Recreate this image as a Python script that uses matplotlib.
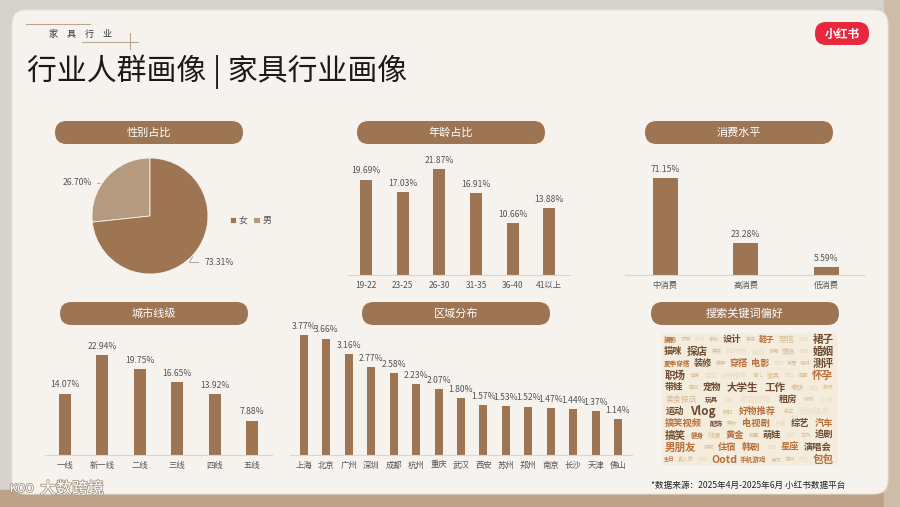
import matplotlib
matplotlib.use("Agg")
import matplotlib.pyplot as plt
import matplotlib.patheffects as pe
from matplotlib.patches import FancyBboxPatch, Rectangle

plt.rcParams['font.family'] = ['Noto Sans CJK SC', 'DejaVu Sans']

W, H = 900, 507
BROWN = '#9e7552'
LIGHT = '#b59a80'
GRAY = '#555555'

# data
gender_labels = ['男', '女']
gender_vals = [26.70, 73.31]

age_cats = ['19-22', '23-25', '26-30', '31-35', '36-40', '41以上']
age_vals = [19.69, 17.03, 21.87, 16.91, 10.66, 13.88]

spend_cats = ['中消费', '高消费', '低消费']
spend_vals = [71.15, 23.28, 5.59]

tier_cats = ['一线', '新一线', '二线', '三线', '四线', '五线']
tier_vals = [14.07, 22.94, 19.75, 16.65, 13.92, 7.88]

region_cats = ['上海', '北京', '广州', '深圳', '成都', '杭州', '重庆', '武汉',
               '西安', '苏州', '郑州', '南京', '长沙', '天津', '佛山']
region_vals = [3.77, 3.66, 3.16, 2.77, 2.58, 2.23, 2.07, 1.80,
               1.57, 1.53, 1.52, 1.47, 1.44, 1.37, 1.14]

# word cloud rows: (word, size, colour)
D, O, T, P = '#6e4b30', '#b8703c', '#d9bb8e', '#ecdcc2'
cloud_rows = [
    [('摄影', 5, O), ('求职', 4, T), ('学习', 4, P), ('手帐', 4, T), ('设计', 7, D), ('亲子', 4, T),
     ('鞋子', 6, O), ('穿搭', 6, T), ('情侣', 4, P), ('裙子', 8, D)],
    [('猫咪', 7, D), ('探店', 8, D), ('美食', 4, T), ('旅游攻略', 4, P), ('绘画', 5, P), ('家电', 4, T),
     ('情侣', 5, T), ('书单', 4, P), ('婚姻', 8, D)],
    [('夏季穿搭', 5, O), ('装修', 7, D), ('美甲', 4, T), ('穿搭', 7, O), ('电影', 7, O), ('耳机', 4, P),
     ('家居', 4, T), ('咖啡', 4, T), ('测评', 8, D)],
    [('职场', 8, D), ('健身', 4, T), ('宝宝', 5, P), ('好物推荐', 5, P), ('育儿', 4, T), ('家具', 5, T),
     ('宝妈', 4, P), ('插画', 4, T), ('怀孕', 8, O)],
    [('带娃', 7, D), ('面试', 4, T), ('宠物', 7, D), ('大学生', 8, D), ('工作', 8, D), ('考研', 5, T),
     ('露营', 4, P), ('旅行', 4, T)],
    [('美食探店', 6, T), ('玩具', 5, D), ('烘焙', 4, P), ('家居好物', 6, P), ('租房', 7, D), ('收纳', 4, T),
     ('小说', 5, P)],
    [('运动', 7, D), ('Vlog', 9, D), ('数码', 4, T), ('好物推荐', 7, O), ('手工', 4, T), ('休闲娱乐', 6, P)],
    [('搞笑视频', 7, O), ('配饰', 5, D), ('美妆', 4, T), ('电视剧', 7, O), ('科普', 4, P), ('综艺', 7, D),
     ('汽车', 7, O)],
    [('搞笑', 8, D), ('健身', 5, O), ('动漫', 5, T), ('黄金', 7, O), ('明星', 4, T), ('萌娃', 7, D),
     ('音乐', 4, P), ('古风', 4, T), ('追剧', 7, D)],
    [('男朋友', 8, O), ('护肤', 4, T), ('住宿', 7, O), ('韩剧', 7, O), ('减肥', 4, P), ('星座', 7, O),
     ('演唱会', 7, D)],
    [('生日', 4, O), ('真人秀', 4, T), ('历史', 4, P), ('Ootd', 8, O), ('手机游戏', 5, O), ('读书', 4, T),
     ('游戏', 4, T), ('养生', 4, P), ('包包', 8, O)],
]

fig = plt.figure(figsize=(W / 100, H / 100), dpi=100, facecolor='#d6d2ce')


def px_axes(x0, y0, x1, y1):
    return fig.add_axes([x0 / W, 1 - y1 / H, (x1 - x0) / W, (y1 - y0) / H])


# background layer
bg = px_axes(0, 0, W, H)
bg.set_xlim(0, W)
bg.set_ylim(H, 0)
bg.axis('off')
bg.add_patch(Rectangle((0, 490), W, 17, color='#bca287', zorder=0))
bg.add_patch(Rectangle((884, 0), 16, H, color='#cdbda8', zorder=0))
bg.add_patch(FancyBboxPatch((12, 10), 876, 484, boxstyle='round,pad=0,rounding_size=14',
                            fc='#f6f3ee', ec='#e6e0d8', lw=0.8, zorder=1))

# header
bg.plot([26, 90], [24, 24], color='#b9a78f', lw=0.8, zorder=2)
bg.plot([82, 138], [42, 42], color='#b9a78f', lw=0.8, zorder=2)
bg.plot([130, 130], [33, 49], color='#b9a78f', lw=0.8, zorder=2)
bg.text(49, 34, '家\u3000具\u3000行\u3000业', fontsize=6.5, color='#333333', va='center', zorder=3)
bg.text(27, 72, '行业人群画像 | 家具行业画像', fontsize=21.5, color='#1a1a1a', va='center', zorder=3)

# logo
bg.add_patch(FancyBboxPatch((815, 22), 54, 23, boxstyle='round,pad=0,rounding_size=11',
                            fc='#e8283c', ec='none', zorder=3))
bg.text(842, 34, '小红书', fontsize=8.5, color='white', weight='bold', ha='center', va='center', zorder=4)

# section pills
pills = [(55, 121, '性别占比'), (357, 121, '年龄占比'), (645, 121, '消费水平'),
         (60, 302, '城市线级'), (362, 302, '区域分布'), (651, 302, '搜索关键词偏好')]
for x, y, t in pills:
    bg.add_patch(FancyBboxPatch((x, y), 188, 23, boxstyle='round,pad=0,rounding_size=11.5',
                                fc=BROWN, ec='none', zorder=3))
    bg.text(x + 94, y + 11.5, t, fontsize=8, color='white', ha='center', va='center', zorder=4)

# footer and watermark
bg.text(651, 485, '*数据来源：2025年4月-2025年6月 小红书数据平台', fontsize=6.2, color='#222222',
        va='center', zorder=3)
halo = [pe.withStroke(linewidth=1.2, foreground='#a89886')]
bg.text(10, 489, 'KOO', fontsize=8, color='white', va='center', zorder=3, path_effects=halo)
bg.text(40, 489, '大数跨境', fontsize=11.5, color='white', va='center', zorder=3, path_effects=halo)


def bar_panel(box, cats, vals, xlim, width, ymax, base_y):
    x0, y0, x1 = box
    ax = px_axes(x0, y0, x1, base_y)
    ax.patch.set_alpha(0)
    pos = range(len(cats))
    bars = ax.bar(pos, vals, width=width, color=BROWN)
    ax.set_xlim(*xlim)
    ax.set_ylim(0, ymax)
    for s in ['top', 'right', 'left']:
        ax.spines[s].set_visible(False)
    ax.spines['bottom'].set_color('#dcd6cf')
    ax.spines['bottom'].set_linewidth(0.8)
    ax.set_yticks([])
    ax.set_xticks(list(pos))
    ax.set_xticklabels(cats, fontsize=6, color=GRAY)
    ax.tick_params(axis='x', length=0, pad=4)
    for b, v in zip(bars, vals):
        ax.annotate(f'{v:.2f}%', (b.get_x() + b.get_width() / 2, v), xytext=(0, 3),
                    textcoords='offset points', ha='center', va='bottom',
                    fontsize=6.2, color=GRAY, annotation_clip=False)
    return ax


bar_panel((348, 150, 570), age_cats, age_vals, (-0.5, 5.57), 0.33, 21.87 * 125 / 106, 275)
bar_panel((625, 150, 865), spend_cats, spend_vals, (-0.5, 2.48), 0.31, 71.15 * 125 / 97, 275)
bar_panel((45, 335, 272), tier_cats, tier_vals, (-0.53, 5.53), 0.32, 22.94 * 120 / 100, 455)
bar_panel((290, 330, 632), region_cats, region_vals, (-0.62, 14.62), 0.36, 3.77 * 125 / 120, 455)

# pie
pax = px_axes(150 - 58, 216 - 58, 150 + 58, 216 + 58)
wedges, _ = pax.pie(gender_vals, colors=[LIGHT, BROWN], startangle=90, counterclock=True,
                    wedgeprops=dict(edgecolor='#f6f3ee', linewidth=0.6))
pax.set_xlim(-1, 1)
pax.set_ylim(-1, 1)
pax.annotate(f'{gender_vals[0]:.2f}%', xy=(-0.86, 0.56), xytext=(-1.0, 0.58),
             ha='right', va='center', fontsize=6.2, color=GRAY, annotation_clip=False,
             arrowprops=dict(arrowstyle='-', color='#999999', lw=0.6))
pax.annotate(f'{gender_vals[1]:.2f}%', xy=(0.76, -0.66), xytext=(0.94, -0.8),
             ha='left', va='center', fontsize=6.2, color=GRAY, annotation_clip=False,
             arrowprops=dict(arrowstyle='-', color='#999999', lw=0.6,
                             connectionstyle='angle,angleA=0,angleB=60'))
pax.legend([wedges[1], wedges[0]], [gender_labels[1], gender_labels[0]], ncol=2,
           loc='center left', bbox_to_anchor=(1.12, 0.46), frameon=False, fontsize=6.5,
           handlelength=0.7, handleheight=0.7, handletextpad=0.3, columnspacing=0.6,
           labelcolor=GRAY)

# word cloud
wax = px_axes(662, 333, 838, 465)
wax.set_xlim(0, 1)
wax.set_ylim(len(cloud_rows), 0)
wax.set_facecolor('#f4ecdd')
for s in wax.spines.values():
    s.set_visible(False)
wax.set_xticks([])
wax.set_yticks([])
for r, row in enumerate(cloud_rows):
    widths = [sum(0.55 if ch.isascii() else 1.0 for ch in w) * sz / 120 for w, sz, c in row]
    gap = (1.0 - sum(widths)) / (len(row) + 1)
    x = gap
    for (w, sz, c), wd in zip(row, widths):
        wax.text(x, r + 0.55, w, fontsize=sz * 0.95, color=c, va='center', ha='left',
                 weight='bold' if c in (D, O) else 'normal')
        x += wd + gap

fig.savefig('out.png', dpi=100, facecolor=fig.get_facecolor())
